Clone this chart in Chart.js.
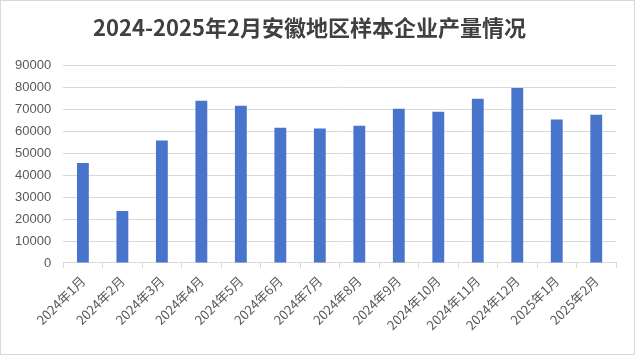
<!DOCTYPE html>
<html>
<head>
<meta charset="utf-8">
<script src="https://cdn.jsdelivr.net/npm/chart.js@4"></script>
<style>
html,body{margin:0;padding:0;background:#fff;}
#wrap{position:relative;width:635px;height:355px;}
canvas{display:block;position:absolute;left:0;top:0;}
#frame{position:absolute;left:0;top:0;width:635px;height:355px;box-sizing:border-box;border:1px solid #d9d9d9;pointer-events:none;}
</style>
</head>
<body>
<div id="wrap"><canvas id="c" width="635" height="355"></canvas><div id="frame"></div></div>
<script>
const categories = ["2024年1月","2024年2月","2024年3月","2024年4月","2024年5月","2024年6月","2024年7月","2024年8月","2024年9月","2024年10月","2024年11月","2024年12月","2025年1月","2025年2月"];
const production = [45500, 23700, 55800, 73900, 71600, 61600, 61200, 62500, 70200, 68900, 74800, 79700, 65300, 67500];
const titleText = "2024-2025年2月安徽地区样本企业产量情况";
const yMin = 0, yMax = 90000, yStep = 10000;

const fontFamily = "'Noto Sans CJK SC', 'Liberation Sans', sans-serif";
new Chart(document.getElementById('c'), {
  type: 'bar',
  data: {
    labels: categories,
    datasets: [{
      data: production,
      backgroundColor: '#4874cb',
      borderWidth: 0,
      barPercentage: 0.3,
      categoryPercentage: 1.0
    }]
  },
  options: {
    responsive: false,
    animation: false,
    layout: { padding: { left: 3, right: 19, top: 0, bottom: 17 } },
    plugins: {
      legend: { display: false },
      tooltip: { enabled: false },
      title: {
        display: true,
        text: titleText,
        color: '#404040',
        font: { family: fontFamily, size: 22, weight: 'bold' },
        padding: { top: 14, bottom: 25 }
      }
    },
    scales: {
      x: {
        grid: { display: true, drawOnChartArea: false, offset: true, color: '#d9d9d9', tickLength: 5 },
        border: { display: true, color: '#d9d9d9' },
        ticks: {
          color: '#595959',
          font: { family: fontFamily, size: 13 },
          minRotation: 45, maxRotation: 45, padding: 5, autoSkip: false
        }
      },
      y: {
        min: yMin, max: yMax,
        grid: { color: '#d9d9d9', drawTicks: false },
        border: { display: false },
        ticks: {
          stepSize: yStep,
          color: '#595959',
          padding: 12,
          callback: v => String(v),
          font: { family: "'Liberation Sans', sans-serif", size: 13 }
        }
      }
    }
  }
});
</script>
</body>
</html>
